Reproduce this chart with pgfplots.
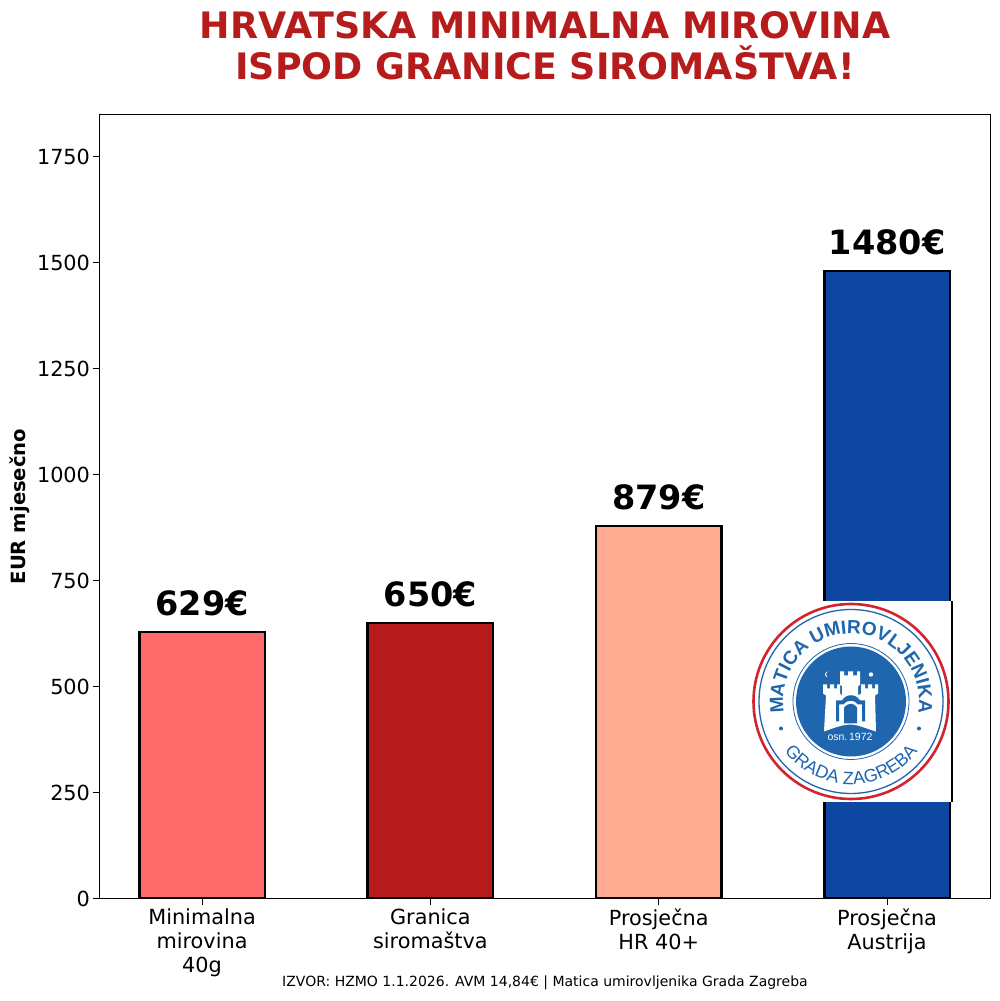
\documentclass[border=0pt]{standalone}
\usepackage{pgfplots}
\pgfplotsset{compat=1.18}
\usepackage{fontspec}
\setmainfont{DejaVu Sans}
\newfontfamily\logofont{Liberation Sans}
\usetikzlibrary{decorations.text}
\definecolor{cA}{HTML}{FF6B6B}
\definecolor{cB}{HTML}{B71C1C}
\definecolor{cC}{HTML}{FFAB91}
\definecolor{cD}{HTML}{0D47A1}
\definecolor{logoblue}{HTML}{1F66AE}
\definecolor{logored}{HTML}{D2232F}
\begin{document}
\begin{tikzpicture}[x=1pt,y=1pt]
\useasboundingbox (0,0) rectangle (1000,1001);
\begin{axis}[
  at={(99.5pt,102.5pt)}, anchor=south west,
  scale only axis, width=891pt, height=784pt,
  xmin=-0.449, xmax=3.453, ymin=0, ymax=1849,
  axis line style={line width=1pt,black},
  tick style={line width=1pt,black},
  major tick length=6pt,
  tick align=outside,
  xtick={0,1,2,3},
  xtick pos=bottom, ytick pos=left,
  xticklabels={{Minimalna\\mirovina\\40g},{Granica\\siromaštva},{Prosječna\\HR 40+},{Prosječna\\Austrija}},
  xticklabel style={align=center,font=\fontsize{20.8}{23.7}\selectfont,anchor=north,yshift=-1pt},
  ytick={0,250,500,750,1000,1250,1500,1750},
  yticklabel style={font=\fontsize{20.8}{24}\selectfont},
  /pgf/number format/assume math mode=true,
  /pgf/number format/1000 sep={},
  ylabel={EUR mjesečno},
  ylabel style={at={(axis description cs:-0.09,0.5)},anchor=center,font=\fontsize{19.6}{23}\selectfont\bfseries},
  ybar, bar width=125.5pt, bar shift=0pt,
  nodes near coords={\pgfmathprintnumber{\pgfplotspointmeta}€},
  every node near coord/.style={font=\fontsize{33.5}{38}\selectfont\bfseries,black,anchor=south,yshift=11pt},
  point meta=y,
]
\addplot[fill=cA,draw=black,line width=2.5pt] coordinates {(0,629)};
\addplot[fill=cB,draw=black,line width=2.5pt] coordinates {(1,650)};
\addplot[fill=cC,draw=black,line width=2.5pt] coordinates {(2,879)};
\addplot[fill=cD,draw=black,line width=2.5pt] coordinates {(3,1480)};
\end{axis}
% titles
\node[font=\fontsize{36.4}{41}\selectfont\bfseries,text=cB,align=center] at (545,1001-46) {HRVATSKA MINIMALNA MIROVINA\\ISPOD GRANICE SIROMAŠTVA!};
\node[font=\fontsize{14}{16}\selectfont] at (545,1001-983) {IZVOR: HZMO 1.1.2026. AVM 14,84€ | Matica umirovljenika Grada Zagreba};
% logo
\fill[white] (823,1001-802) rectangle (950.5,1001-601);
\fill[black] (950.5,1001-802.5) rectangle (952.7,1001-601);
\begin{scope}[shift={(851,1001-701.5)}]
  \draw[logored,line width=2.6pt,fill=white] (0,0) circle (97.5);
  \draw[logoblue,line width=1.3pt] (0,0) circle (92);
  \draw[logoblue,line width=0.8pt] (0,0) circle (58);
  \fill[logoblue] (0,0) circle (55);
  \path[decorate,decoration={text along path,text align=center,
     text={|\logofont\fontsize{19}{19}\selectfont\bfseries\color{logoblue}|MATICA UMIROVLJENIKA}}]
     (192:68) arc (192:-12:68);
  \path[decorate,decoration={text along path,text align=center,
     text={|\logofont\fontsize{18}{18}\selectfont\color{logoblue}|GRADA ZAGREBA}}]
     (215:83) arc (215:325:83);
  \fill[logoblue] (-70,-27) circle (2);
  \fill[logoblue] (68,-27) circle (2);
  % castle
  \fill[white] (-27,-30) -- (-25,6) -- (-28,8) -- (-28,17) -- (-24,17) -- (-24,13) -- (-21,13) -- (-21,17) -- (-17,17) -- (-17,13) -- (-14,13) -- (-14,17) -- (-11,17) -- (-11,8)
     -- (-9,6) -- (-9,15) -- (-11,17) -- (-11,30) -- (-7,30) -- (-7,26) -- (-3,26) -- (-3,30) -- (2,30) -- (2,26) -- (6,26) -- (6,30) -- (9,30) -- (9,17) -- (7,15) -- (7,6)
     -- (10,8) -- (10,17) -- (14,17) -- (14,13) -- (17,13) -- (17,17) -- (21,17) -- (21,13) -- (24,13) -- (24,17) -- (27,17) -- (27,8) -- (24,6) -- (25,-30)
     .. controls (12,-26) and (6,-23) .. (0,-23) .. controls (-8,-23) and (-16,-26) .. (-27,-30) -- cycle;
  \fill[logoblue] (-15,-20) -- (-15,1) -- (-9,1) .. controls (-5,8) and (5,8) .. (9,1) -- (14,1) -- (14,-20) -- (11,-20) -- (11,-3) -- (7,-3) .. controls (4,2) and (-4,2) .. (-8,-3) -- (-12,-3) -- (-12,-20) -- cycle;
  \fill[logoblue] (-7,-22) -- (-7,-6) .. controls (-3,-1) and (3,-1) .. (6,-6) -- (6,-22) -- cycle;
  \fill[white] (20,27) circle (2.2);
  \fill[white] (-23,30) arc (90:270:3) arc (270:90:1.8 and 3) -- cycle;
  \node[text=white,font=\logofont\fontsize{10.5}{11}\selectfont] at (-1,-35.5) {osn.\,1972};
\end{scope}
\end{tikzpicture}
\end{document}
